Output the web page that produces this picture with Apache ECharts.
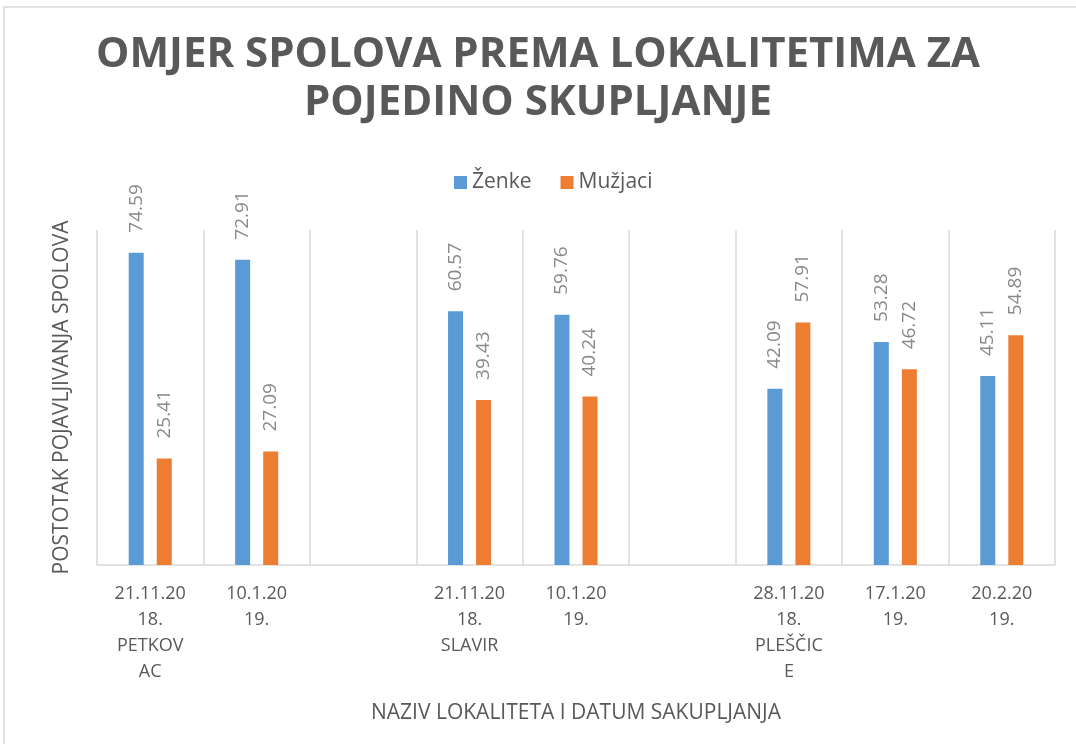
<!DOCTYPE html>
<html>
<head>
<meta charset="utf-8">
<script src="https://cdn.jsdelivr.net/npm/echarts@6/dist/echarts.min.js"></script>
<style>
  html, body { margin: 0; padding: 0; background: #fff; }
  #chart { width: 1076px; height: 744px; }
</style>
</head>
<body>
<div id="chart"></div>
<script>
// category labels as they wrap in the original (date, then site under the first date)
const categories = [
  '21.11.20\n18.\nPETKOV\nAC',
  '10.1.20\n19.',
  '',
  '21.11.20\n18.\nSLAVIR',
  '10.1.20\n19.',
  '',
  '28.11.20\n18.\nPLEŠČIC\nE',
  '17.1.20\n19.',
  '20.2.20\n19.',
]
const seriesNames = ['Ženke', 'Mužjaci']
const zenke = [74.59, 72.91, null, 60.57, 59.76, null, 42.09, 53.28, 45.11]
const muzjaci = [25.41, 27.09, null, 39.43, 40.24, null, 57.91, 46.72, 54.89]

const TEXT = '#595959'
const GRID_LINE = '#d9d9d9'
const FONT = 'Open Sans'

const chart = echarts.init(document.getElementById('chart'))

const labelStyle = {
  show: true,
  position: 'top',
  rotate: 90,
  align: 'left',
  verticalAlign: 'middle',
  distance: 20,
  color: '#898989',
  fontSize: 19,
  fontFamily: FONT,
  formatter: (p) => p.value.toFixed(2),
}

chart.setOption({
  animation: false,
  backgroundColor: '#fff',
  color: ['#5b9bd5', '#ed7d31'],
  graphic: [
    {
      type: 'rect',
      shape: { x: 4, y: 7, width: 1200, height: 900 },
      style: { fill: 'none', stroke: GRID_LINE, lineWidth: 1.5 },
      silent: true,
    },
  ],
  title: {
    text: 'OMJER SPOLOVA PREMA LOKALITETIMA ZA\nPOJEDINO SKUPLJANJE',
    left: 'center',
    top: 26,
    textStyle: {
      color: TEXT,
      fontSize: 42,
      fontWeight: 'bold',
      fontFamily: FONT,
      lineHeight: 48,
    },
  },
  legend: {
    data: seriesNames,
    top: 167,
    left: 449,
    icon: 'rect',
    itemWidth: 13,
    itemHeight: 13,
    itemGap: 29,
    textStyle: { color: TEXT, fontSize: 21, fontFamily: FONT },
  },
  grid: { left: 97, right: 21, top: 230, bottom: 179 },
  xAxis: {
    type: 'category',
    data: categories,
    name: 'NAZIV LOKALITETA I DATUM SAKUPLJANJA',
    nameLocation: 'middle',
    nameGap: 138,
    nameTextStyle: { color: TEXT, fontSize: 21, fontFamily: FONT },
    axisLine: { lineStyle: { color: GRID_LINE, width: 1.5 } },
    axisTick: { show: false },
    splitLine: { show: true, lineStyle: { color: GRID_LINE, width: 1.5 } },
    axisLabel: {
      interval: 0,
      color: TEXT,
      fontSize: 18,
      fontFamily: FONT,
      lineHeight: 26,
      margin: 16,
    },
  },
  yAxis: {
    type: 'value',
    min: 0,
    max: 80,
    name: 'POSTOTAK POJAVLJIVANJA SPOLOVA',
    nameLocation: 'middle',
    nameGap: 24,
    nameTextStyle: { color: TEXT, fontSize: 21, fontFamily: FONT },
    axisLine: { show: false },
    axisTick: { show: false },
    axisLabel: { show: false },
    splitLine: { show: false },
  },
  series: [
    {
      name: seriesNames[0],
      type: 'bar',
      data: zenke,
      barWidth: 15,
      barGap: '87%',
      label: labelStyle,
    },
    {
      name: seriesNames[1],
      type: 'bar',
      data: muzjaci,
      barWidth: 15,
      barGap: '87%',
      label: labelStyle,
    },
  ],
})
</script>
</body>
</html>
